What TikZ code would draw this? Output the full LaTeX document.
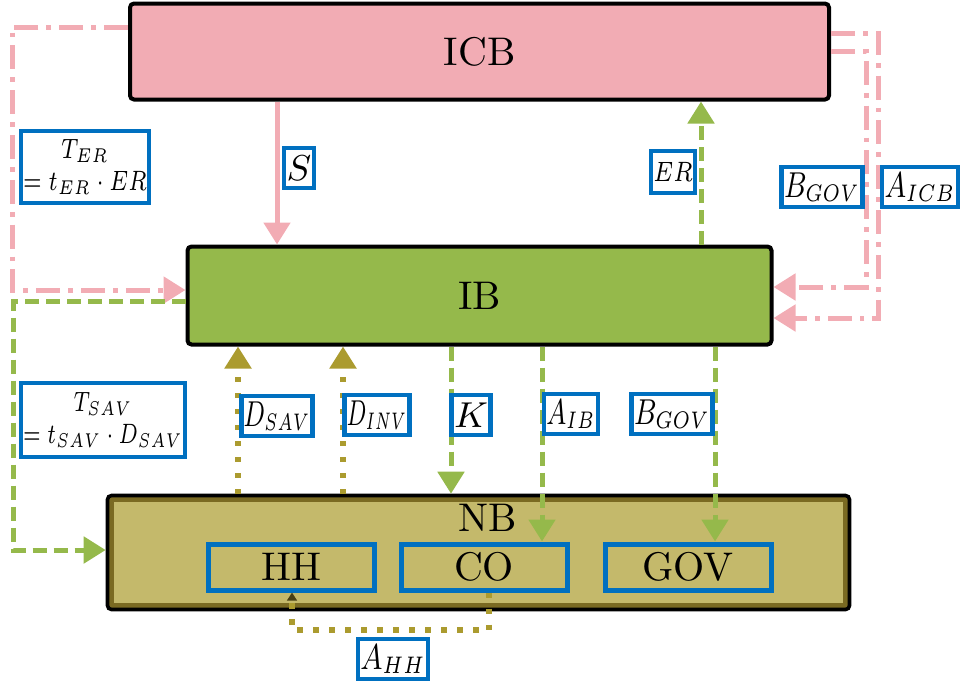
\documentclass[tikz,border=0pt]{standalone}
\usepackage{amsmath}
\usepackage{graphicx}
\usepackage{xcolor}
\usepackage{tikz}
\usetikzlibrary{arrows.meta, calc}

\definecolor{icbpink}{HTML}{F2ACB4}
\definecolor{ibgreen}{HTML}{95B94B}
\definecolor{nbolive}{HTML}{C4B96B}
\definecolor{nbdark}{HTML}{7A6A22}
\definecolor{dotolive}{HTML}{AB9B2F}
\definecolor{lblblue}{HTML}{0070C0}

\newcommand{\squeeze}[2][.72]{\scalebox{#1}[1]{#2}}

\begin{document}
\begin{tikzpicture}[x=0.25pt, y=-0.25pt, >={Triangle[width=6.5pt,length=5.5pt]},
    bank/.style={draw=black, line width=1pt, rounded corners=1pt, inner sep=0pt},
    agent/.style={draw=lblblue, line width=1.25pt, minimum width=41.5pt, minimum height=11.5pt, inner sep=0pt},
    lbl/.style={draw=lblblue, fill=white, line width=1.1pt, inner sep=0.6pt, minimum height=10pt, font=\small},
    pinkflow/.style={->, draw=icbpink, line width=1.25pt},
    pinkdd/.style={pinkflow, dash pattern=on 6pt off 2pt on 1.2pt off 2pt},
    greenflow/.style={->, draw=ibgreen, line width=1.25pt, dash pattern=on 3.5pt off 1.75pt},
    oliveflow/.style={->, draw=dotolive, line width=1.3pt, dash pattern=on 1.3pt off 2.7pt}]
    \useasboundingbox (0,0) rectangle (961,688);

    % banks
    \node[bank, fill=icbpink, minimum width=174.75pt, minimum height=24pt] (icb) at (479.5,51.5) {ICB};
    \node[bank, fill=ibgreen, minimum width=146pt, minimum height=24.5pt] (ib) at (479.5,295.5) {IB};
    \node[bank, fill=nbolive, line width=0.9pt, minimum width=185.5pt, minimum height=28.5pt,
        path picture={\draw[nbdark, line width=3.2pt] (path picture bounding box.north west) rectangle (path picture bounding box.south east);}] (nb) at (478.5,552.5) {};
    \node (nbname) at (488,518) {NB};

    % agents
    \node[agent] (hh) at (291.5,567) {HH};
    \node[agent] (co) at (484,567) {CO};
    \node[agent] (gov) at (688,567) {GOV};

    % ICB <-> IB
    \draw[pinkflow] (icb.south -| 277,0) -- (ib.north -| 277,0);
    \draw[greenflow] (ib.north -| 701,0) -- (icb.south -| 701,0);
    \draw[pinkdd] (icb.west |- 0,27) -- (12,27) |- (ib.west |- 0,290);
    \draw[pinkdd] (icb.east |- 0,51) -- (866,51) |- (ib.east |- 0,287);
    \draw[pinkdd] (icb.east |- 0,33) -- (878,33) |- (ib.east |- 0,318);

    % IB <-> NB
    \draw[greenflow] (ib.west |- 0,301) -- (13,301) |- (nb.west |- 0,550);
    \draw[oliveflow] (nb.north -| 238,0) -- (ib.south -| 238,0);
    \draw[oliveflow] (nb.north -| 343,0) -- (ib.south -| 343,0);
    \draw[greenflow] (ib.south -| 451,0) -- (nb.north -| 451,0);
    \draw[greenflow] (ib.south -| 542,0) -- (co.north -| 542,0);
    \draw[greenflow] (ib.south -| 715,0) -- (gov.north -| 715,0);

    % CO -> HH
    \draw[oliveflow, -{Triangle[width=2.4pt,length=2pt,color=nbdark!60!black]}] (co.south -| 489,0) -- (489,630) -| (hh.south -| 292,0);

    % labels
    \node[lbl, minimum width=7pt] (lS) at (299,168) {$S$};
    \node[lbl, font=\scriptsize, minimum height=10.5pt] (lER) at (673,172) {\squeeze[.8]{$ER$}};
    \node[lbl, align=center, font=\scriptsize, minimum width=31.5pt, minimum height=18pt] (lTER) at (85,167) {\squeeze[.76]{$T_{ER}$}\\\squeeze[.76]{$=t_{ER}\cdot ER$}};
    \node[lbl, minimum width=18.5pt] (lBGOVa) at (822,187) {\squeeze[.76]{$B_{GOV}$}};
    \node[lbl, minimum width=18pt] (lAICB) at (920,187) {\squeeze[.78]{$A_{ICB}$}};
    \node[lbl, align=center, font=\scriptsize, minimum width=40.5pt, minimum height=18.5pt] (lTSAV) at (103,420) {\squeeze[.72]{$T_{SAV}$}\\\squeeze[.72]{$=t_{SAV}\cdot D_{SAV}$}};
    \node[lbl, minimum width=16pt] (lDSAV) at (277,416) {\squeeze[.68]{$D_{SAV}$}};
    \node[lbl, minimum width=14pt] (lDINV) at (377,415) {\squeeze[.62]{$D_{INV}$}};
    \node[lbl, minimum width=7pt] (lK) at (471,415) {$K$};
    \node[lbl, minimum width=11.5pt] (lAIB) at (571,414) {\squeeze[.72]{$A_{IB}$}};
    \node[lbl, minimum width=18.5pt] (lBGOVb) at (672,414) {\squeeze[.76]{$B_{GOV}$}};
    \node[lbl, minimum width=17pt] (lAHH) at (393,659) {\squeeze[.8]{$A_{HH}$}};
\end{tikzpicture}
\end{document}
